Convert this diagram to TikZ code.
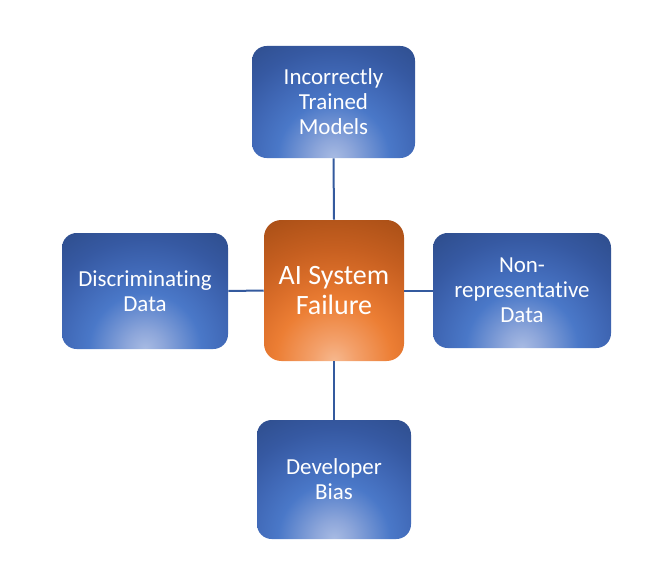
\documentclass[tikz,border=0pt]{standalone}
\usepackage{fontspec}
\setmainfont{Carlito}[Ligatures=NoCommon]
\definecolor{b0}{HTML}{A8BBE3}
\definecolor{b1}{HTML}{8DA6DA}
\definecolor{b2}{HTML}{4A78C8}
\definecolor{b3}{HTML}{4068B6}
\definecolor{b4}{HTML}{3659A2}
\definecolor{b5}{HTML}{2C4A86}
\definecolor{o0}{HTML}{F6B88E}
\definecolor{o1}{HTML}{F3A06A}
\definecolor{o2}{HTML}{EC7E34}
\definecolor{o3}{HTML}{DC6F2A}
\definecolor{o4}{HTML}{C65F20}
\definecolor{o5}{HTML}{AB5017}
\definecolor{linkblue}{HTML}{345A9E}
\pgfdeclareradialshading{blueglow}{\pgfpointorigin}{color(0bp)=(b0); color(14bp)=(b1); color(42bp)=(b2); color(62bp)=(b3); color(82bp)=(b4); color(115bp)=(b5); color(180bp)=(b5)}
\pgfdeclareradialshading{orangeglow}{\pgfpointorigin}{color(0bp)=(o0); color(16bp)=(o1); color(44bp)=(o2); color(62bp)=(o3); color(85bp)=(o4); color(115bp)=(o5); color(180bp)=(o5)}
\tikzset{
  bx/.style 2 args={minimum width=#1*0.75pt, minimum height=#2*0.75pt},
  glowbox/.style={text=white, align=center, inner sep=0pt,
     path picture={\node[inner sep=0pt] at (path picture bounding box.south) {\pgfuseshading{#1}};}},
  bluebox/.style={glowbox=blueglow, rounded corners=11pt,
     font=\fontsize{17.2pt}{18.8pt}\selectfont},
  orangebox/.style={glowbox=orangeglow, rounded corners=13pt,
     font=\fontsize{21pt}{22pt}\selectfont},
  link/.style={draw=linkblue, line width=1.5pt}
}
\begin{document}
\begin{tikzpicture}[x=0.75pt,y=-0.75pt]
\useasboundingbox (0,0) rectangle (666,581);
\node[orangebox, bx={140}{141}] (c) at (334,290.5) {AI System\\Failure};
\node[bluebox, bx={163}{112}] (t) at (333.5,102) {Incorrectly\\Trained\\Models};
\node[bluebox, bx={166}{116}] (l) at (145,291) {Discriminating\\Data};
\node[bluebox, bx={178}{115}] (r) at (522,290.5) {Non-\\representative\\Data};
\node[bluebox, bx={154}{119}] (b) at (334,479.5) {Developer\\Bias};
\draw[link] (t.south) -- (c.north);
\draw[link] (c.south) -- (b.north);
\draw[link] (l.east) -- (c.west);
\draw[link] (c.east) -- (r.west);
\end{tikzpicture}
\end{document}
